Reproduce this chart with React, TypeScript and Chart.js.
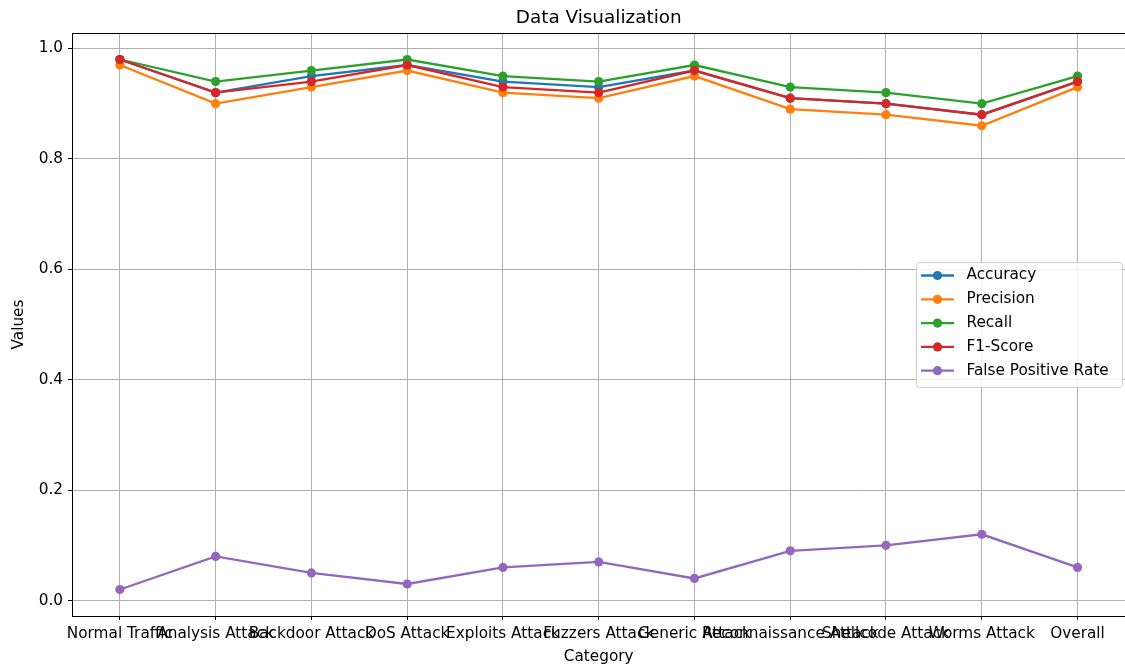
import React, { useEffect, useRef } from "react";
import { Chart, registerables } from "chart.js";

Chart.register(...registerables);

const categories = [
  "Normal Traffic",
  "Analysis Attack",
  "Backdoor Attack",
  "DoS Attack",
  "Exploits Attack",
  "Fuzzers Attack",
  "Generic Attack",
  "Reconnaissance Attack",
  "Shellcode Attack",
  "Worms Attack",
  "Overall",
];

const accuracy = [0.98, 0.92, 0.95, 0.97, 0.94, 0.93, 0.96, 0.91, 0.9, 0.88, 0.94];
const precision = [0.97, 0.9, 0.93, 0.96, 0.92, 0.91, 0.95, 0.89, 0.88, 0.86, 0.93];
const recall = [0.98, 0.94, 0.96, 0.98, 0.95, 0.94, 0.97, 0.93, 0.92, 0.9, 0.95];
const f1Score = [0.98, 0.92, 0.94, 0.97, 0.93, 0.92, 0.96, 0.91, 0.9, 0.88, 0.94];
const falsePositiveRate = [0.02, 0.08, 0.05, 0.03, 0.06, 0.07, 0.04, 0.09, 0.1, 0.12, 0.06];

const seriesNames = ["Accuracy", "Precision", "Recall", "F1-Score", "False Positive Rate"];
const seriesValues = [accuracy, precision, recall, f1Score, falsePositiveRate];
const seriesColors = ["#1f77b4", "#ff7f0e", "#2ca02c", "#d62728", "#9467bd"];
const yTickValues = [0, 0.2, 0.4, 0.6, 0.8, 1.0];
const chartTitle = "Data Visualization";

const FONT = "'DejaVu Sans', sans-serif";
const TICK_SIZE = 15.3;

const framePlugin = {
  id: "frame",
  afterDraw(chart: any) {
    const { ctx, chartArea } = chart;
    ctx.save();
    ctx.strokeStyle = "#000";
    ctx.lineWidth = 1;
    ctx.strokeRect(chartArea.left + 0.5, chartArea.top + 0.5, chartArea.right - chartArea.left, chartArea.bottom - chartArea.top);
    ctx.font = `18.4px ${FONT}`;
    ctx.fillStyle = "#000";
    ctx.textAlign = "center";
    ctx.textBaseline = "alphabetic";
    ctx.fillText(chartTitle, (chartArea.left + chartArea.right) / 2, 23);
    ctx.restore();
  },
};

const legendPlugin = {
  id: "customLegend",
  afterDraw(chart: any) {
    const { ctx } = chart;
    const bx = 916;
    const by = 262;
    const bw = 206;
    const bh = 125;
    ctx.save();
    ctx.fillStyle = "rgba(255,255,255,0.85)";
    ctx.strokeStyle = "#cccccc";
    ctx.lineWidth = 1;
    ctx.beginPath();
    (ctx as any).roundRect(bx + 0.5, by + 0.5, bw, bh, 3);
    ctx.fill();
    ctx.stroke();
    ctx.font = `${TICK_SIZE}px ${FONT}`;
    ctx.textBaseline = "middle";
    ctx.textAlign = "left";
    seriesNames.forEach((name, i) => {
      const y = 275.5 + i * 23.8;
      ctx.strokeStyle = seriesColors[i];
      ctx.lineWidth = 2.3;
      ctx.beginPath();
      ctx.moveTo(921, y);
      ctx.lineTo(954, y);
      ctx.stroke();
      ctx.fillStyle = seriesColors[i];
      ctx.beginPath();
      ctx.arc(937.5, y, 4.6, 0, Math.PI * 2);
      ctx.fill();
      ctx.fillStyle = "#000";
      ctx.fillText(name, 966.5, y);
    });
    ctx.restore();
  },
};

export default function App() {
  const ref = useRef<HTMLCanvasElement>(null);

  useEffect(() => {
    if (!ref.current) return;
    Chart.defaults.color = "#000";
    Chart.defaults.font.family = FONT;
    const chart = new Chart(ref.current, {
      type: "line",
      data: {
        labels: categories,
        datasets: seriesNames.map((name, i) => ({
          label: name,
          data: seriesValues[i],
          borderColor: seriesColors[i],
          backgroundColor: seriesColors[i],
          borderWidth: 2.3,
          pointRadius: 4.6,
          pointHoverRadius: 4.6,
          pointBorderWidth: 0,
          tension: 0,
          fill: false,
          order: 4 - i,
        })),
      },
      options: {
        responsive: false,
        animation: false,
        devicePixelRatio: 1,
        layout: { padding: { top: 33, left: 0, right: 0, bottom: 0 } },
        plugins: {
          legend: { display: false },
          tooltip: { enabled: false },
          title: { display: false },
        },
        scales: {
          x: {
            type: "category",
            offset: true,
            grid: {
              display: true,
              color: "#b0b0b0",
              lineWidth: 1,
              offset: false,
              drawTicks: true,
              tickLength: 4,
              tickColor: "#000",
            },
            border: { display: true, color: "#000", width: 1 },
            ticks: {
              autoSkip: false,
              maxRotation: 0,
              minRotation: 0,
              padding: 5,
              font: { size: TICK_SIZE, family: FONT },
              color: "#000",
            },
            title: {
              display: true,
              text: "Category",
              font: { size: TICK_SIZE, family: FONT },
              color: "#000",
              padding: { top: 0, bottom: 0 },
            },
            afterFit: (s: any) => {
              s.height = 50;
            },
          },
          y: {
            type: "linear",
            min: -0.028,
            max: 1.028,
            grid: {
              display: true,
              color: "#b0b0b0",
              lineWidth: 1,
              drawTicks: true,
              tickLength: 4,
              tickColor: "#000",
            },
            border: { display: true, color: "#000", width: 1 },
            ticks: {
              padding: 5,
              font: { size: TICK_SIZE, family: FONT },
              color: "#000",
              callback: (v: any) => Number(v).toFixed(1),
            },
            afterBuildTicks: (s: any) => {
              s.ticks = yTickValues.map((v) => ({ value: v }));
            },
            title: {
              display: true,
              text: "Values",
              font: { size: TICK_SIZE, family: FONT },
              color: "#000",
              padding: { top: 10, bottom: 10 },
            },
            afterFit: (s: any) => {
              s.width = 72;
            },
          },
        },
      },
      plugins: [framePlugin, legendPlugin],
    });
    return () => chart.destroy();
  }, []);

  return (
    <div
      style={{
        position: "fixed",
        left: 0,
        top: 0,
        width: 1125,
        height: 666,
        overflow: "hidden",
        background: "#fff",
      }}
    >
      <canvas ref={ref} width={1130} height={666} style={{ width: 1130, height: 666, display: "block" }} />
    </div>
  );
}
